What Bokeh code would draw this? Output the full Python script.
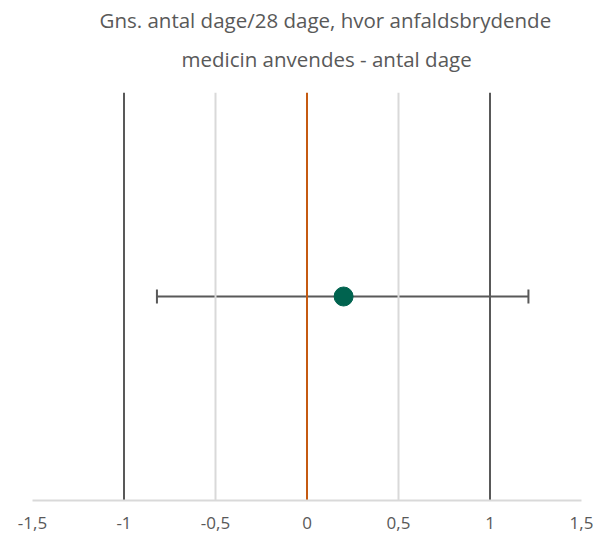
from bokeh.plotting import figure
from bokeh.models import (Range1d, FixedTicker, Title, Whisker, TeeHead,
                          ColumnDataSource)
from bokeh.embed import file_html
from bokeh.resources import INLINE

# ---- data ----
title_lines = ["Gns. antal dage/28 dage, hvor anfaldsbrydende",
               "medicin anvendes - antal dage"]
ref_x = [-1.0, -0.5, 0.0, 0.5, 1.0]
estimate = [0.2]
lower = [-0.82]
upper = [1.21]
row_pos = [0.5]
tick_values = [-1.5, -1.0, -0.5, 0.0, 0.5, 1.0, 1.5]
tick_labels = ["-1,5", "-1", "-0,5", "0", "0,5", "1", "1,5"]

# ---- styles ----
ref_colors = ["#595959", "#D9D9D9", "#C55A11", "#D9D9D9", "#595959"]
text_color = "#595959"
font = "Open Sans"

p = figure(width=593, height=532, output_backend="svg", toolbar_location=None,
           x_range=Range1d(-1.5, 1.5), y_range=Range1d(0, 1),
           min_border_left=32, min_border_right=12, min_border_top=92,
           min_border_bottom=32)
p.outline_line_color = None
p.xgrid.visible = False
p.ygrid.visible = False
p.yaxis.visible = False
p.background_fill_color = "white"
p.border_fill_color = "white"

t2 = Title(text=title_lines[1], align="left", text_font=font,
           text_font_size="20.5px", text_font_style="normal",
           text_color=text_color, standoff=39, offset=149)
t1 = Title(text=title_lines[0], align="left", text_font=font,
           text_font_size="20.5px", text_font_style="normal",
           text_color=text_color, standoff=-20, offset=67)
p.add_layout(t2, "above")
p.add_layout(t1, "above")

ref_src = ColumnDataSource(dict(x=ref_x, y0=[p.y_range.start] * len(ref_x),
                                y1=[p.y_range.end] * len(ref_x), c=ref_colors))
p.segment(x0="x", y0="y0", x1="x", y1="y1", source=ref_src,
          line_color="c", line_width=2)

src = ColumnDataSource(dict(est=estimate, lower=lower, upper=upper, y=row_pos))
w = Whisker(source=src, base="y", lower="lower", upper="upper",
            dimension="width", line_color="#595959", line_width=2,
            lower_head=TeeHead(size=14, line_color="#595959", line_width=2),
            upper_head=TeeHead(size=14, line_color="#595959", line_width=2))
p.add_layout(w)
p.scatter(x="est", y="y", source=src, size=19, color="#00634F")

ax = p.xaxis[0]
ax.ticker = FixedTicker(ticks=tick_values)
ax.major_label_overrides = {v: l for v, l in zip(tick_values, tick_labels)}
ax.major_tick_line_color = None
ax.minor_tick_line_color = None
ax.axis_line_color = "#D9D9D9"
ax.axis_line_width = 2
ax.major_label_text_font = font
ax.major_label_text_font_size = "17px"
ax.major_label_text_color = text_color
ax.major_label_standoff = 10

open("out.html", "w").write(file_html(p, INLINE))
